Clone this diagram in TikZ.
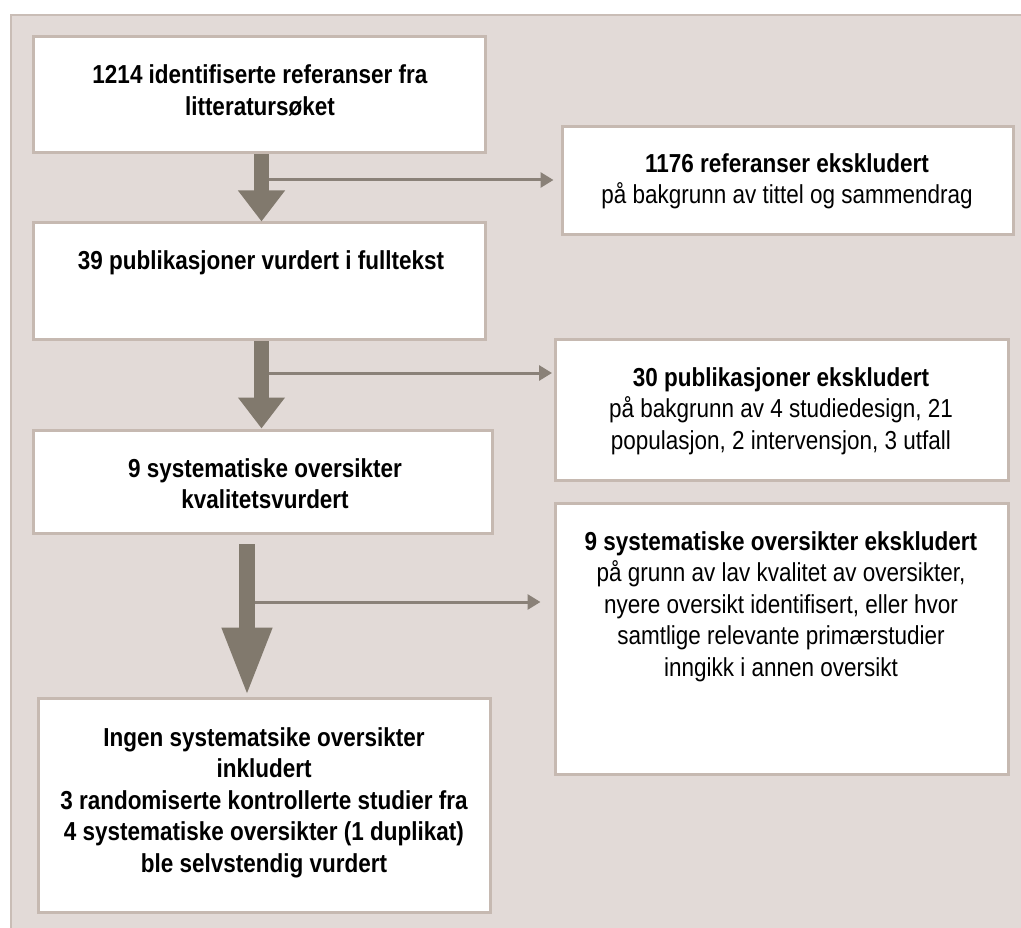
\documentclass[tikz,border=0pt]{standalone}
\usepackage{fontspec}
\setmainfont{Liberation Sans}[FakeStretch=0.865]
\usetikzlibrary{arrows.meta}
\definecolor{bgc}{HTML}{E2DAD7}
\definecolor{framec}{HTML}{C9BDB6}
\definecolor{boxline}{HTML}{C6B9B1}
\definecolor{arrowc}{HTML}{81796D}
\definecolor{thinc}{HTML}{8A8178}
\tikzset{
  box/.style={rectangle, draw=boxline, line width=3pt, fill=white, inner sep=0pt},
  txt/.style={align=center, inner sep=0pt, text=black, font=\fontsize{26}{31.5}\selectfont},
  txtb/.style={txt, font=\fontsize{26}{31.5}\selectfont\bfseries},
  bigarrow/.style={draw=arrowc, line width=15pt, -{Triangle[width=45pt,length=31pt]}},
  bigarrowlong/.style={draw=arrowc, line width=16pt, -{Triangle[width=46pt,length=69pt]}},
  thinarrow/.style={draw=thinc, line width=3pt, -{Triangle[width=15pt,length=13pt]}}
}
\begin{document}
\begin{tikzpicture}[x=1pt,y=-1pt]
\useasboundingbox (0,0) rectangle (1021,928);
% background panel
\fill[bgc] (11,15) rectangle (1021,928);
\draw[framec, line width=2pt] (11,928) -- (11,15) -- (1021,15);

% left column boxes
\node[box, minimum width=452pt, minimum height=116pt] (b1) at (259,95) {};
\node[box, minimum width=452pt, minimum height=117pt] (b2) at (259,281.5) {};
\node[box, minimum width=459pt, minimum height=103pt] (b3) at (262.5,481.5) {};
\node[box, minimum width=452pt, minimum height=214pt] (b4) at (264,805) {};
% right column boxes
\node[box, minimum width=451pt, minimum height=108pt] (r1) at (787.5,181) {};
\node[box, minimum width=453pt, minimum height=140pt] (r2) at (781.5,410) {};
\node[box, minimum width=453pt, minimum height=271pt] (r3) at (781.5,638.5) {};

% texts (anchor base = baseline of the last line)
\node[txtb, anchor=base] (t1) at (260,115.5) {1214 identifiserte referanser fra\\litteratursøket};
\node[txtb, anchor=base] (t2) at (261,270) {39 publikasjoner vurdert i fulltekst};
\node[txtb, anchor=base] (t3) at (265,508.5) {9 systematiske oversikter\\kvalitetsvurdert};
\node[txtb, anchor=base] (t4) at (264,872) {Ingen systematsike oversikter\\inkludert\\3 randomiserte kontrollerte studier fra\\4 systematiske oversikter (1 duplikat)\\ble selvstendig vurdert};
\node[txt, anchor=base] (u1) at (787,204) {{\bfseries 1176 referanser ekskludert}\\på bakgrunn av tittel og sammendrag};
\node[txt, anchor=base] (u2) at (781,449) {{\bfseries 30 publikasjoner ekskludert}\\på bakgrunn av 4 studiedesign, 21\\populasjon, 2 intervensjon, 3 utfall};
\node[txt, anchor=base] (u3) at (781,676) {{\bfseries 9 systematiske oversikter ekskludert}\\på grunn av lav kvalitet av oversikter,\\nyere oversikt identifisert, eller hvor\\samtlige relevante primærstudier\\inngikk i annen oversikt};

% arrow anchor coordinates
\coordinate (c1) at (261.5,0);
\coordinate (k1) at (261.5,180);
\coordinate (k2) at (261.5,373);
\coordinate (k3) at (247,602);
\coordinate (s3) at (247,544);

% thin side arrows
\draw[thinarrow, shorten >=7pt] (k1) -- (k1 -| r1.west);
\draw[thinarrow, shorten >=1.5pt] (k2) -- (k2 -| r2.west);
\draw[thinarrow, shorten >=13pt] (k3) -- (k3 -| r3.west);

% thick down arrows
\draw[bigarrow] (b1.south -| c1) -- (b2.north -| c1);
\draw[bigarrow] (b2.south -| c1) -- (b3.north -| c1);
\draw[bigarrowlong] (s3) -- (b4.north -| s3);
\end{tikzpicture}
\end{document}
